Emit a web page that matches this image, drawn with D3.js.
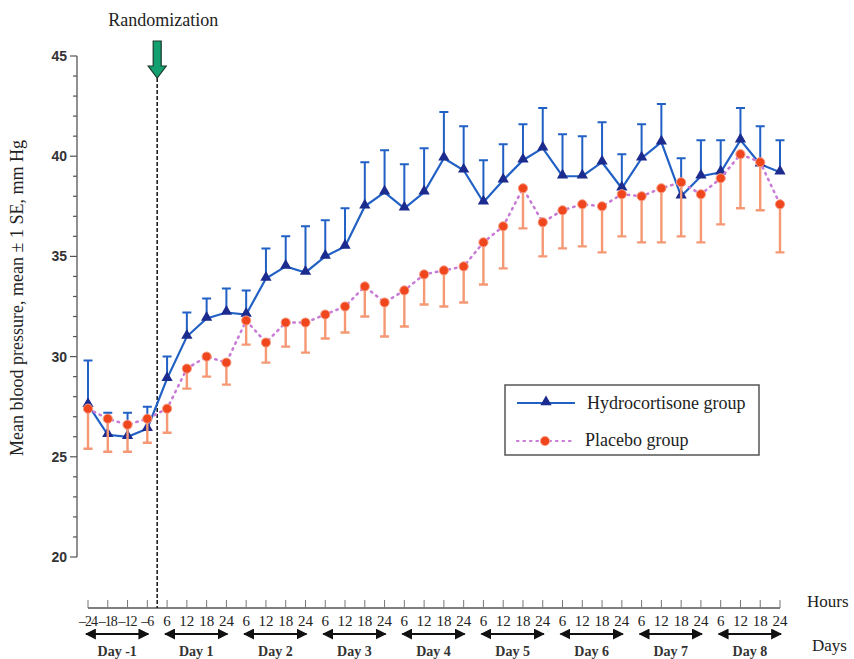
<!DOCTYPE html>
<html>
<head>
<meta charset="utf-8">
<script src="https://cdn.jsdelivr.net/npm/d3@7"></script>
<style>
  body { margin: 0; background: #fff; }
  svg text { font-family: "Liberation Serif", "Times New Roman", serif; fill: #222; }
</style>
</head>
<body>
<div id="chart"></div>
<script>
// hours after randomization (Day -1 is before, Days 1-8 after)
const hours = ["\u201324", "\u201318", "\u201312", "\u20136",
  "6","12","18","24", "6","12","18","24", "6","12","18","24", "6","12","18","24",
  "6","12","18","24", "6","12","18","24", "6","12","18","24", "6","12","18","24"];
const days = ["Day -1", "Day 1", "Day 2", "Day 3", "Day 4", "Day 5", "Day 6", "Day 7", "Day 8"];

const hydroMean = [27.6, 26.1, 26.0, 26.4, 28.9, 31.0, 31.9, 32.2, 32.1, 33.9, 34.5, 34.2,
  35.0, 35.5, 37.5, 38.2, 37.4, 38.2, 39.9, 39.3, 37.7, 38.8, 39.8, 40.4,
  39.0, 39.0, 39.7, 38.4, 39.9, 40.7, 38.0, 39.0, 39.2, 40.8, 39.6, 39.2];
const hydroSE = [2.2, 1.1, 1.2, 1.1, 1.1, 1.2, 1.0, 1.2, 1.2, 1.5, 1.5, 2.3,
  1.8, 1.9, 2.2, 2.1, 2.2, 2.2, 2.3, 2.2, 2.1, 1.8, 1.8, 2.0,
  2.1, 2.0, 2.0, 1.7, 1.7, 1.9, 1.9, 1.8, 1.6, 1.6, 1.9, 1.6];

const placeboMean = [27.4, 26.9, 26.6, 26.9, 27.4, 29.4, 30.0, 29.7, 31.8, 30.7, 31.7, 31.7,
  32.1, 32.5, 33.5, 32.7, 33.3, 34.1, 34.3, 34.5, 35.7, 36.5, 38.4, 36.7,
  37.3, 37.6, 37.5, 38.1, 38.0, 38.4, 38.7, 38.1, 38.9, 40.1, 39.7, 37.6];
const placeboSE = [2.0, 1.65, 1.35, 1.2, 1.2, 1.0, 1.0, 1.1, 1.2, 1.0, 1.2, 1.5,
  1.2, 1.3, 1.5, 1.7, 1.8, 1.5, 1.8, 1.8, 2.1, 2.1, 2.0, 1.7,
  1.9, 2.1, 2.3, 2.1, 2.3, 2.7, 2.7, 2.4, 2.3, 2.7, 2.4, 2.4];

const yTicks = [20, 25, 30, 35, 40, 45];

const width = 854, height = 659;
const blue = "#2160c4", navy = "#1c2b8e", orange = "#f59874", red = "#f0461e", violet = "#c77ad6";

const svg = d3.select("#chart").append("svg")
    .attr("width", width).attr("height", height);

const idx = d3.range(hours.length);
const x = d3.scaleLinear().domain([0, hours.length - 1]).range([88, 780]);
const y = d3.scaleLinear().domain([20, 45]).range([557, 56]);

// y axis
const yAxis = svg.append("g").attr("transform", "translate(77,0)");
yAxis.append("line").attr("y1", y(45)).attr("y2", y(20)).attr("stroke", "#555").attr("stroke-width", 1.3);
yAxis.selectAll(".minor").data(d3.range(20, 46)).join("line")
    .attr("x1", d => d % 5 === 0 ? -7 : -4).attr("x2", 0)
    .attr("y1", d => y(d)).attr("y2", d => y(d))
    .attr("stroke", "#555").attr("stroke-width", 1.2);
yAxis.selectAll(".lab").data(yTicks).join("text")
    .attr("x", -10).attr("y", d => y(d) + 5)
    .attr("text-anchor", "end")
    .style("font-family", "'Liberation Sans', Arial, sans-serif")
    .style("font-weight", "bold").style("font-size", "14px").style("fill", "#333")
    .text(d => d);

svg.append("text")
    .attr("transform", "translate(23,298) rotate(-90)")
    .attr("text-anchor", "middle")
    .style("font-size", "18px")
    .text("Mean blood pressure, mean \u00b1 1 SE, mm Hg");

// x axis (hours)
const xAxis = svg.append("g").attr("transform", "translate(0,608)");
xAxis.append("line").attr("x1", x(0)).attr("x2", x(hours.length - 1))
    .attr("stroke", "#555").attr("stroke-width", 1.5);
xAxis.selectAll(".tk").data(idx).join("line")
    .attr("x1", d => x(d)).attr("x2", d => x(d)).attr("y1", -8).attr("y2", 0)
    .attr("stroke", "#777").attr("stroke-width", 1);
xAxis.selectAll(".hl").data(idx).join("text")
    .attr("x", d => x(d)).attr("y", 18)
    .attr("text-anchor", "middle")
    .style("font-size", d => d < 4 ? "14px" : "15px")
    .style("letter-spacing", d => d < 4 ? "-1px" : "0px")
    .text(d => hours[d]);

svg.append("text").attr("x", 807).attr("y", 607).style("font-size", "17px").text("Hours");
svg.append("text").attr("x", 812).attr("y", 651).style("font-size", "17px").text("Days");

// day arrows
const defs = svg.append("defs");
defs.append("marker").attr("id", "ah").attr("viewBox", "0 0 10 10")
    .attr("refX", 9).attr("refY", 5).attr("markerWidth", 11).attr("markerHeight", 11)
    .attr("markerUnits", "userSpaceOnUse").attr("orient", "auto-start-reverse")
    .append("path").attr("d", "M0,0 L10,5 L0,10 Z").attr("fill", "#111");

const dayG = svg.append("g");
days.forEach((d, k) => {
  const a = x(k * 4) - 2, b = x(k * 4 + 3) + 1;
  dayG.append("line").attr("x1", a).attr("x2", b).attr("y1", 634).attr("y2", 634)
      .attr("stroke", "#111").attr("stroke-width", 2)
      .attr("marker-start", "url(#ah)").attr("marker-end", "url(#ah)");
  dayG.append("text").attr("x", (a + b) / 2).attr("y", 656)
      .attr("text-anchor", "middle").style("font-size", "14px").style("font-weight", "bold")
      .style("fill", "#333").text(d);
});

// randomization marker
const rx = x(3.5);
svg.append("line").attr("x1", rx).attr("x2", rx).attr("y1", 78).attr("y2", 608)
    .attr("stroke", "#222").attr("stroke-width", 1.6).attr("stroke-dasharray", "4,2");
svg.append("path")
    .attr("d", `M${rx - 4},41 L${rx + 4},41 L${rx + 4},66 L${rx + 9},66 L${rx},78 L${rx - 9},66 L${rx - 4},66 Z`)
    .attr("fill", "#13a070").attr("stroke", "#1a3a2a").attr("stroke-width", 1.2);
svg.append("text").attr("x", rx + 6).attr("y", 26).attr("text-anchor", "middle")
    .style("font-size", "18px").text("Randomization");

// hydrocortisone
const hyd = svg.append("g");
hyd.selectAll(".eb").data(idx).join("path")
    .attr("d", i => `M${x(i)},${y(hydroMean[i])}V${y(hydroMean[i] + hydroSE[i])}M${x(i) - 4.5},${y(hydroMean[i] + hydroSE[i])}h9`)
    .attr("stroke", blue).attr("stroke-width", 2).attr("fill", "none");
hyd.append("path").datum(idx)
    .attr("d", d3.line().x(i => x(i)).y(i => y(hydroMean[i])))
    .attr("fill", "none").attr("stroke", blue).attr("stroke-width", 2.2);
hyd.selectAll(".tri").data(idx).join("path")
    .attr("d", d3.symbol(d3.symbolTriangle, 55))
    .attr("transform", i => `translate(${x(i)},${y(hydroMean[i]) - 1})`)
    .attr("fill", navy);

// placebo
const plc = svg.append("g");
plc.selectAll(".eb").data(idx).join("path")
    .attr("d", i => `M${x(i)},${y(placeboMean[i])}V${y(placeboMean[i] - placeboSE[i])}M${x(i) - 4.5},${y(placeboMean[i] - placeboSE[i])}h9`)
    .attr("stroke", orange).attr("stroke-width", 2.4).attr("fill", "none");
plc.append("path").datum(idx)
    .attr("d", d3.line().x(i => x(i)).y(i => y(placeboMean[i])))
    .attr("fill", "none").attr("stroke", violet).attr("stroke-width", 2.5)
    .attr("stroke-dasharray", "1.5,5").attr("stroke-linecap", "round");
plc.selectAll(".dot").data(idx).join("circle")
    .attr("cx", i => x(i)).attr("cy", i => y(placeboMean[i])).attr("r", 4.6)
    .attr("fill", red).attr("stroke", "#f7a088").attr("stroke-width", 1);

// legend
const lg = svg.append("g").attr("transform", "translate(505,385)");
lg.append("rect").attr("width", 254).attr("height", 70)
    .attr("fill", "#fff").attr("stroke", "#555").attr("stroke-width", 1.5);
lg.append("line").attr("x1", 12).attr("x2", 70).attr("y1", 18).attr("y2", 18)
    .attr("stroke", blue).attr("stroke-width", 2.2);
lg.append("path").attr("d", d3.symbol(d3.symbolTriangle, 55))
    .attr("transform", "translate(41,17)").attr("fill", navy);
lg.append("text").attr("x", 82).attr("y", 24).style("font-size", "18px").text("Hydrocortisone group");
lg.append("line").attr("x1", 12).attr("x2", 70).attr("y1", 56).attr("y2", 56)
    .attr("stroke", violet).attr("stroke-width", 2.2)
    .attr("stroke-dasharray", "1.5,5").attr("stroke-linecap", "round");
lg.append("circle").attr("cx", 40).attr("cy", 56).attr("r", 4.6)
    .attr("fill", red).attr("stroke", "#f7a088").attr("stroke-width", 1);
lg.append("text").attr("x", 80).attr("y", 61).style("font-size", "18px").text("Placebo group");
</script>
</body>
</html>
